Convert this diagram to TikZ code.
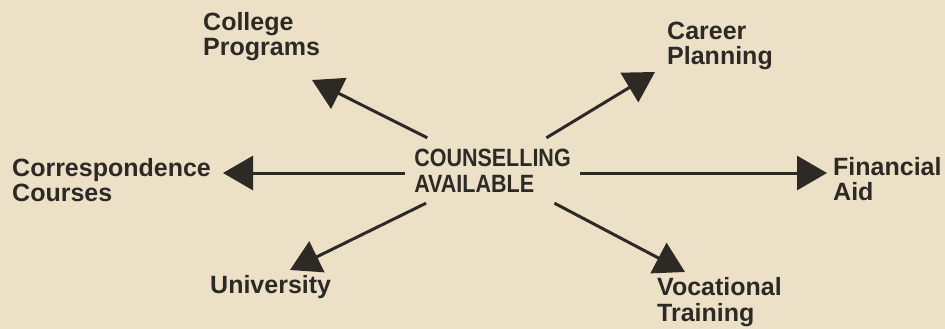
\documentclass[tikz,border=0pt]{standalone}
\usepackage{fontspec}
\setmainfont{Liberation Sans}
\usetikzlibrary{arrows.meta}
\definecolor{paper}{RGB}{236,224,199}
\definecolor{ink}{RGB}{45,42,38}

\tikzset{
  lbl/.style={anchor=base west, inner sep=0pt, align=left, text=ink,
    font=\fontsize{25}{25}\selectfont\bfseries},
  hubbox/.style={minimum width=175pt, minimum height=65pt, inner sep=0pt,
    align=left, text=ink, font=\fontsize{25}{26}\selectfont\bfseries},
  arr/.style={draw=ink, line width=3pt,
    -{Triangle[length=30pt,width=34pt]}},
}

\begin{document}
\begin{tikzpicture}[x=1pt, y=-1pt]
  \fill[paper] (0,0) rectangle (945,329);
  \useasboundingbox (0,0) rectangle (945,329);

  \node[hubbox] (hub) at (492.5,170.5)
    {\scalebox{0.86}[1]{COUNSELLING}\\\scalebox{0.86}[1]{AVAILABLE}};

  % base = baseline of the last line
  \node[lbl] (college) at (203,56)  {College\\Programs};
  \node[lbl] (career)  at (667,65)  {Career\\Planning};
  \node[lbl] (corr)    at (12,201)  {Correspondence\\Courses};
  \node[lbl] (fin)     at (833,200) {Financial\\Aid};
  \node[lbl] (uni)     at (210,293) {University};
  \node[lbl] (voc)     at (657,321) {Vocational\\[1pt]Training};

  % arrow tips
  \coordinate (t-college) at (312,80);
  \coordinate (t-career)  at (655,72);
  \coordinate (t-corr)    at (223,173);
  \coordinate (t-fin)     at (827,173);
  \coordinate (t-uni)     at (290,270);
  \coordinate (t-voc)     at (685,272);

  \draw[arr] (hub) -- (t-college);
  \draw[arr] (hub) -- (t-career);
  \draw[arr] (hub.west |- t-corr) -- (t-corr);
  \draw[arr] (hub.east |- t-fin) -- (t-fin);
  \draw[arr] (hub) -- (t-uni);
  \draw[arr] (hub) -- (t-voc);
\end{tikzpicture}
\end{document}
